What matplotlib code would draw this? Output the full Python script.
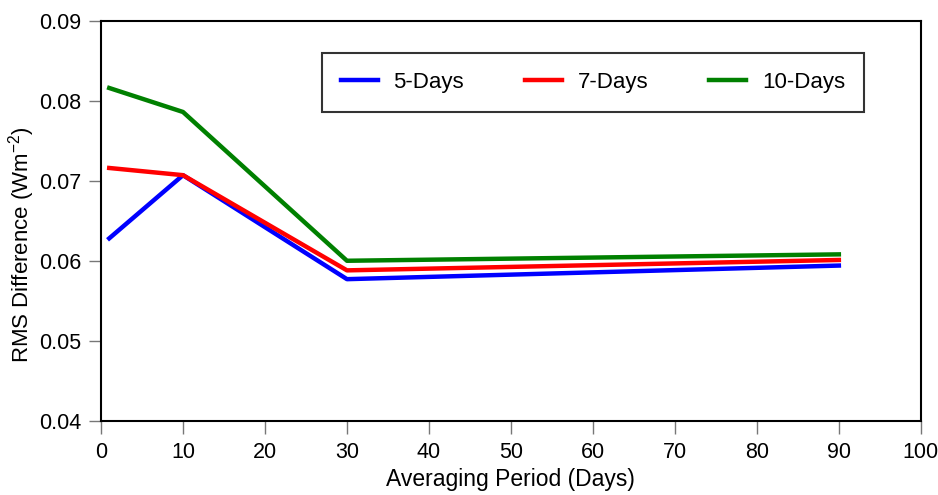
import matplotlib
matplotlib.use('Agg')
import matplotlib.pyplot as plt

plt.rcParams['font.family'] = ['Liberation Sans', 'DejaVu Sans']
plt.rcParams['mathtext.fontset'] = 'custom'
plt.rcParams['mathtext.rm'] = 'Liberation Sans'
plt.rcParams['mathtext.default'] = 'regular'

periods = [1, 10, 30, 90]
days_5 = [0.0628, 0.0707, 0.0577, 0.0594]
days_7 = [0.0716, 0.0707, 0.0588, 0.0601]
days_10 = [0.0816, 0.0786, 0.0600, 0.0608]

fig = plt.figure(figsize=(9.38, 4.95), dpi=100)
ax = fig.add_axes([0.1077, 0.150, 0.874, 0.808])

ax.plot(periods, days_5, color='blue', lw=3.2, label='5-Days')
ax.plot(periods, days_7, color='red', lw=3.2, label='7-Days')
ax.plot(periods, days_10, color='green', lw=3.2, label='10-Days')

ax.set_xlim(0, 100)
ax.set_ylim(0.04, 0.09)
ax.set_xticks(range(0, 101, 10))
ax.set_yticks([0.04, 0.05, 0.06, 0.07, 0.08, 0.09])
ax.set_yticklabels(['0.04', '0.05', '0.06', '0.07', '0.08', '0.09'])

for s in ax.spines.values():
    s.set_linewidth(1.5)

ax.tick_params(direction='out', length=9, width=1, color='#777777',
               labelsize=15.5, top=False, right=False)
ax.tick_params(axis='x', pad=6)
ax.tick_params(axis='y', pad=5)
ax.set_xlabel('Averaging Period (Days)', fontsize=16.5, labelpad=4)
ax.set_ylabel('RMS Difference (Wm$^{-2}$)', fontsize=16)
ax.yaxis.set_label_coords(-0.078, 0.44)

leg = ax.legend(ncol=3, loc='upper left', bbox_to_anchor=(0.2695, 0.819, 0.661, 0.1),
                mode='expand', fontsize=16, frameon=True, fancybox=False,
                handlelength=1.66, handletextpad=0.7, columnspacing=1.95,
                borderpad=0.85, borderaxespad=0)
leg.get_frame().set_edgecolor('black')
leg.get_frame().set_linewidth(1.5)

fig.savefig('out.png', dpi=100)
